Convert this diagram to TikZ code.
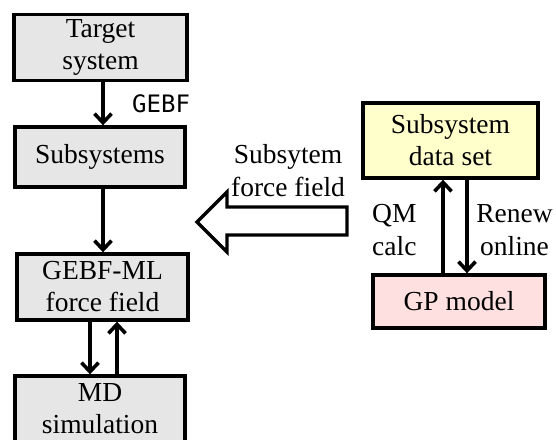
\documentclass[tikz,border=0pt]{standalone}
\usepackage{fontspec}
\setmainfont{Liberation Serif}
\newfontfamily\labelfont{DejaVu Sans Mono}
\usetikzlibrary{arrows.meta}
\definecolor{boxgrey}{HTML}{E6E6E6}
\definecolor{dataYellow}{HTML}{FFFFCC}
\definecolor{gpPink}{HTML}{FFE0E0}
\tikzset{
  flowbox/.style={draw=black, line width=3.4pt, fill=boxgrey, align=center,
    inner sep=0pt, font=\fontsize{27.5}{32}\selectfont},
  flowarrow/.style={line width=3.6pt,
    -{Straight Barb[length=9pt, width=17pt]}},
  plaintext/.style={inner sep=0pt, font=\fontsize{27.5}{33}\selectfont},
}
\begin{document}
\begin{tikzpicture}[x=1pt, y=-1pt]
  \useasboundingbox (0,0) rectangle (556,439);
  \begin{scope}
  \clip (0,0) rectangle (556,439);

  % left column: workflow
  \node[flowbox, minimum width=173pt, minimum height=66pt] (target) at (100.5,47.5) {Target\\system};
  \node[flowbox, minimum width=170pt, minimum height=60pt] (subs) at (100,157) {Subsystems};
  \node[flowbox, minimum width=171pt, minimum height=66pt] (gebfml) at (102.5,287) {GEBF-ML\\force field};
  \node[flowbox, minimum width=170pt, minimum height=66pt] (md) at (100,409) {MD\\simulation};

  % right column: training loop
  \node[flowbox, fill=dataYellow, minimum width=175pt, minimum height=75pt] (dataset) at (450.5,140.5) {Subsystem\\data set};
  \node[flowbox, fill=gpPink, minimum width=172pt, minimum height=53pt] (gp) at (459,301.5) {GP model};

  % vertical connectors
  \draw[flowarrow] (target.south -| 103,0) -- (subs.north -| 103,0);
  \draw[flowarrow] (subs.south -| 103,0) -- (gebfml.north -| 103,0);
  \draw[flowarrow] (gebfml.south -| 90,0) -- (md.north -| 90,0);
  \draw[flowarrow] (md.north -| 117,0) -- (gebfml.south -| 117,0);
  \draw[flowarrow] (gp.north -| 443,0) -- (dataset.south -| 443,0);
  \draw[flowarrow] (dataset.south -| 467,0) -- (gp.north -| 467,0);

  % hollow block arrow carrying the subsystem force field
  \draw[line width=3.2pt, fill=white, line join=miter]
    (347,207) -- (227,207) -- (227,192) -- (197,222) -- (227,252)
    -- (227,235) -- (347,235) -- cycle;

  % labels
  \node[inner sep=0pt, anchor=west, font=\labelfont\fontsize{24}{26}\selectfont] (gebf) at (132,104) {GEBF};
  \node[plaintext, align=center] (fflabel) at (288,171) {Subsytem\\force field};
  \node[plaintext, align=left, anchor=west] (qm) at (372,230) {QM\\calc};
  \node[plaintext, align=center] (renew) at (514.5,230) {Renew\\online};
  \end{scope}
\end{tikzpicture}
\end{document}
